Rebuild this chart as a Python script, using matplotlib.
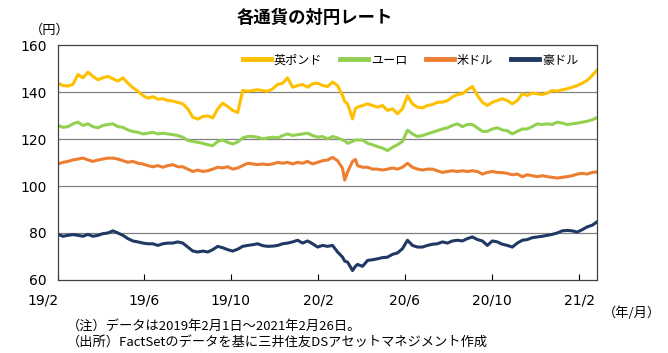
import matplotlib
matplotlib.use("Agg")
import matplotlib.pyplot as plt
import matplotlib.dates as mdates
import matplotlib.transforms as mtransforms
import pandas as pd

plt.rcParams['font.family'] = ['DejaVu Sans', 'Noto Sans CJK JP']

# weekly observation dates (Fridays) plus a few extra dates around March 2020
weekly_start = '2019-02-01'
weekly_end = '2021-02-26'
extra_dates = ['2020-03-09', '2020-03-24']

gbp = [143.8, 142.8, 142.6, 143.3, 147.5, 146.1, 148.5, 146.7, 145.3, 146.1, 146.7, 145.7, 144.7,
       146.1, 143.8, 141.9, 140.4, 138.6, 137.4, 138.1, 137.0, 137.2, 136.4, 136.2, 135.6, 135.0,
       132.9, 129.3, 128.5, 129.6, 129.9, 129.0, 132.9, 135.3, 133.9, 132.2, 131.3,
       140.7, 140.4, 140.7, 141.0, 140.7, 140.4, 141.4, 143.3, 143.8, 146.1, 142.1, 142.8, 143.3,
       142.1, 143.6, 143.8, 142.8, 142.4, 144.3, 142.8, 138.6, 135.0, 128.6, 133.6, 134.3, 135.0,
       134.3, 133.6, 134.3, 132.2, 132.9, 130.8, 132.9, 138.5, 135.0, 133.6,
       133.3, 134.3, 134.7, 135.7, 135.7, 136.4, 137.9, 139.0, 139.3, 141.0, 142.4, 138.6, 135.7,
       134.3, 135.7, 136.4, 137.2, 136.4, 135.0, 136.4, 139.3, 138.6, 139.6, 139.3, 139.0, 139.6,
       140.7, 140.4, 141.0, 141.4, 142.1, 142.8, 143.8, 145.0, 147.1, 149.5]
gbp_extra = [136.0, 133.0]

eur = [125.8, 125.0, 125.3, 126.5, 127.2, 125.8, 126.5, 125.3, 124.8, 125.8, 126.2, 126.5, 125.3,
       125.0, 123.9, 123.2, 122.9, 122.2, 122.5, 122.9, 122.2, 122.5, 122.2, 121.9, 121.5, 120.8,
       119.4, 119.0, 118.6, 118.2, 117.6, 117.2, 119.0, 119.6, 118.6, 117.9, 118.8,
       120.5, 121.1, 121.1, 120.8, 120.1, 120.5, 120.8, 120.5, 121.5, 122.2, 121.5, 121.9, 122.2,
       122.5, 121.5, 120.8, 121.1, 120.1, 121.1, 120.5, 119.6, 118.2, 119.0, 119.6, 119.6, 118.2,
       117.6, 116.8, 116.2, 115.1, 116.5, 117.6, 119.0, 123.8, 122.2, 121.1,
       121.5, 122.2, 122.9, 123.6, 124.3, 124.8, 125.8, 126.5, 125.3, 126.2, 126.2, 124.8, 123.3,
       123.3, 124.3, 124.8, 123.9, 123.6, 122.2, 123.3, 124.3, 124.3, 125.3, 126.5, 126.2, 126.5,
       126.2, 127.2, 126.8, 126.2, 126.5, 126.8, 127.2, 127.6, 128.2, 129.2]
eur_extra = [119.3, 119.6]

usd = [109.4, 110.1, 110.5, 111.1, 111.5, 111.9, 111.1, 110.5, 111.1, 111.5, 111.9, 111.9, 111.5,
       110.8, 110.1, 110.5, 109.7, 109.4, 108.7, 108.2, 108.7, 108.0, 108.7, 109.1, 108.2, 108.2,
       107.2, 106.2, 106.8, 106.2, 106.5, 107.2, 108.0, 107.7, 108.2, 107.2, 107.7,
       108.7, 109.7, 109.4, 109.1, 109.4, 109.1, 109.4, 110.1, 109.7, 110.1, 109.4, 110.1, 109.7,
       110.5, 109.4, 110.1, 110.8, 111.1, 112.2, 110.8, 107.5, 106.0, 110.5, 108.7, 108.0, 108.0,
       107.2, 107.2, 106.8, 107.2, 107.7, 107.2, 108.0, 109.7, 108.0, 107.2,
       106.8, 107.2, 107.2, 106.5, 105.8, 106.2, 106.5, 106.2, 106.5, 106.2, 106.5, 106.2, 105.1,
       105.8, 106.2, 105.8, 105.7, 105.4, 104.8, 105.1, 104.0, 104.8, 104.4, 104.0, 104.4, 104.0,
       103.7, 103.4, 103.7, 104.0, 104.4, 105.1, 105.4, 105.1, 105.8, 106.0]
usd_extra = [102.5, 111.3]

aud = [79.4, 78.6, 79.0, 79.3, 79.0, 78.6, 79.4, 78.6, 79.0, 79.7, 80.0, 80.9, 80.0,
       79.0, 77.6, 76.6, 76.2, 75.7, 75.4, 75.4, 74.7, 75.4, 75.7, 75.7, 76.2, 75.7,
       74.0, 72.3, 71.9, 72.3, 71.9, 72.9, 74.3, 73.7, 72.9, 72.3, 73.1,
       74.3, 74.7, 75.0, 75.4, 74.6, 74.3, 74.4, 74.7, 75.4, 75.7, 76.2, 76.9, 75.7,
       76.6, 75.4, 74.0, 74.7, 74.3, 74.7, 71.9, 69.7, 67.6, 64.0, 66.6, 65.8, 68.3,
       68.6, 69.0, 69.5, 69.7, 70.9, 71.5, 73.3, 76.9, 74.7, 74.0,
       74.0, 74.7, 75.2, 75.4, 76.2, 75.7, 76.6, 76.9, 76.6, 77.6, 78.3, 77.2, 76.6,
       74.7, 76.6, 76.2, 75.2, 74.7, 74.0, 75.7, 76.9, 77.2, 78.0, 78.3, 78.6, 79.0,
       79.4, 80.0, 80.9, 81.1, 80.9, 80.4, 81.4, 82.6, 83.3, 84.8]
aud_extra = [68.0, 65.8]

series_names = ['英ポンド', 'ユーロ', '米ドル', '豪ドル']
series_colors = ['#FFC000', '#92D050', '#ED7D31', '#203864']

tick_dates = ['2019-02-01', '2019-06-01', '2019-10-01', '2020-02-01', '2020-06-01', '2020-10-01', '2021-02-01']
tick_labels = ['19/2', '19/6', '19/10', '20/2', '20/6', '20/10', '21/2']

weekly = pd.date_range(weekly_start, weekly_end, freq='7D')
extra_idx = pd.to_datetime(extra_dates)

def build(vals, extra):
    s = pd.concat([pd.Series(vals, index=weekly), pd.Series(extra, index=extra_idx)])
    return s.sort_index()

all_series = [build(gbp, gbp_extra), build(eur, eur_extra), build(usd, usd_extra), build(aud, aud_extra)]

fig = plt.figure(figsize=(6.68, 3.53), dpi=100)
ax = fig.add_axes([0.0868, 0.207, 0.8072, 0.665])

for s, name, col in zip(all_series, series_names, series_colors):
    ax.plot(s.index, s.values, color=col, lw=2.2, label=name, solid_joinstyle='round')

ax.set_ylim(60, 160)
ax.set_yticks([60, 80, 100, 120, 140, 160])
ax.set_xlim(pd.Timestamp('2019-02-01'), pd.Timestamp('2021-02-26'))
for yv in [80, 100, 120, 140]:
    ax.axhline(yv, color='#808080', lw=0.9, zorder=0)

tds = pd.to_datetime(tick_dates)
ax.set_xticks(tds)
ax.set_xticklabels(tick_labels)
ax.tick_params(axis='x', direction='in', length=4, width=0.8, pad=10, labelsize=10)
ax.tick_params(axis='y', length=0, pad=8, labelsize=10)
# shift first label to the left like the reference
lab0 = ax.get_xticklabels()[0]
lab0.set_transform(lab0.get_transform() + mtransforms.ScaledTranslation(-0.15, 0, fig.dpi_scale_trans))

for sp in ax.spines.values():
    sp.set_color('#404040')
    sp.set_linewidth(0.9)

leg = ax.legend(loc='upper right', bbox_to_anchor=(0.985, 1.01), ncol=4, frameon=False,
                handlelength=2.3, handletextpad=0.25, columnspacing=1.5,
                prop={'family': ['Noto Sans CJK JP'], 'size': 8.7})
for line in leg.get_lines():
    line.set_linewidth(3.5)

jp = ['Noto Sans CJK JP', 'DejaVu Sans']
fig.text(0.472, 0.948, '各通貨の対円レート', ha='center', va='center', fontsize=12.5,
         fontweight='bold', family=jp)
fig.text(0.075, 0.915, '（円）', ha='center', va='center', fontsize=9.5, family=jp)
fig.text(0.99, 0.113, '（年/月）', ha='right', va='center', fontsize=9.5, family=jp)
fig.text(0.1, 0.077, '（注）データは2019年2月1日～2021年2月26日。', ha='left', va='center',
         fontsize=9.5, family=jp)
fig.text(0.1, 0.03, '（出所）FactSetのデータを基に三井住友DSアセットマネジメント作成', ha='left',
         va='center', fontsize=9.5, family=jp)

fig.savefig('out.png', dpi=100)
